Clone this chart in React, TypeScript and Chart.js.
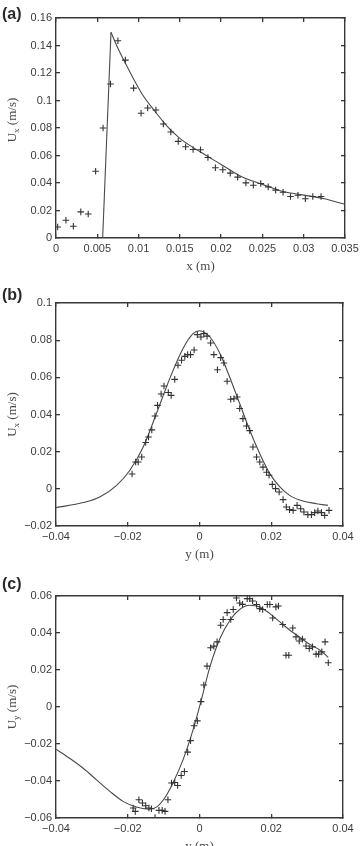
import React, { useEffect, useRef } from "react";
import { Chart, registerables } from "chart.js";

Chart.register(...registerables);

// ---------- Panel (a) ----------
const A_X_TICKS = [0, 0.005, 0.01, 0.015, 0.02, 0.025, 0.03, 0.035];
const A_Y_TICKS = [0, 0.02, 0.04, 0.06, 0.08, 0.1, 0.12, 0.14, 0.16];
const A_MEAS_X = [0.0002, 0.0012, 0.0021, 0.0030, 0.0039, 0.0048, 0.0057, 0.0066, 0.0075, 0.0084, 0.0094, 0.0103, 0.0111, 0.0121, 0.0130, 0.0139, 0.0148, 0.0157, 0.0166, 0.0175, 0.0184, 0.0193, 0.0202, 0.0211, 0.0220, 0.0230, 0.0239, 0.0248, 0.0257, 0.0266, 0.0275, 0.0284, 0.0293, 0.0302, 0.0311, 0.0321];
const A_MEAS_Y = [0.0080, 0.0129, 0.0085, 0.0190, 0.0175, 0.0486, 0.0800, 0.1120, 0.1435, 0.1294, 0.1090, 0.0907, 0.0946, 0.0931, 0.0829, 0.0771, 0.0703, 0.0664, 0.0644, 0.0642, 0.0586, 0.0511, 0.0496, 0.0472, 0.0443, 0.0401, 0.0384, 0.0396, 0.0372, 0.0348, 0.0333, 0.0302, 0.0311, 0.0285, 0.0302, 0.0302];
const A_RISE_X = [0.00565, 0.00666];
const A_RISE_Y = [0, 0.1496];
const A_MODEL_X = [0.00666, 0.0075, 0.0085, 0.0095, 0.0105, 0.012, 0.0135, 0.015, 0.0175, 0.02, 0.0225, 0.025, 0.0275, 0.03, 0.0325, 0.035];
const A_MODEL_Y = [0.1496, 0.138, 0.126, 0.1145, 0.104, 0.092, 0.081, 0.0725, 0.0625, 0.0535, 0.0445, 0.039, 0.0338, 0.0312, 0.0285, 0.0245];

// ---------- Panel (b) ----------
const B_X_TICKS = [-0.04, -0.02, 0, 0.02, 0.04];
const B_Y_TICKS = [-0.02, 0, 0.02, 0.04, 0.06, 0.08, 0.1];
const B_MEAS_X = [-0.0188, -0.0178, -0.0171, -0.0161, -0.0150, -0.0142, -0.0133, -0.0124, -0.0117, -0.0107, -0.0099, -0.0087, -0.0079, -0.0069, -0.0060, -0.0050, -0.0041, -0.0033, -0.0025, -0.0015, -0.0006, 0.0004, 0.0012, 0.0021, 0.0031, 0.0040, 0.0050, 0.0059, 0.0068, 0.0077, 0.0087, 0.0096, 0.0105, 0.0112, 0.0121, 0.0131, 0.0140, 0.0149, 0.0159, 0.0168, 0.0177, 0.0187, 0.0194, 0.0203, 0.0212, 0.0222, 0.0233, 0.0242, 0.0251, 0.0261, 0.0272, 0.0282, 0.0291, 0.0302, 0.0312, 0.0321, 0.0330, 0.0340, 0.0349, 0.0361];
const B_MEAS_Y = [0.0080, 0.0144, 0.0144, 0.0171, 0.0249, 0.0279, 0.0317, 0.0392, 0.0449, 0.0510, 0.0553, 0.0518, 0.0503, 0.0589, 0.0665, 0.0692, 0.0713, 0.0722, 0.0722, 0.0747, 0.0830, 0.0817, 0.0835, 0.0822, 0.0785, 0.0722, 0.0641, 0.0706, 0.0677, 0.0579, 0.0482, 0.0485, 0.0494, 0.0432, 0.0378, 0.0338, 0.0313, 0.0225, 0.0171, 0.0144, 0.0117, 0.0089, 0.0073, 0.0024, 0.0001, -0.0017, -0.0058, -0.0098, -0.0112, -0.0116, -0.0089, -0.0107, -0.0125, -0.0139, -0.0139, -0.0128, -0.0119, -0.0128, -0.0143, -0.0116];
const B_MODEL_X = [-0.040, -0.0324, -0.0278, -0.0231, -0.0194, -0.0157, -0.0120, -0.0083, -0.0046, -0.0018, 0, 0.0029, 0.0057, 0.0084, 0.0112, 0.0140, 0.0168, 0.0196, 0.0224, 0.0251, 0.0288, 0.0326, 0.0358];
const B_MODEL_Y = [-0.0101, -0.0074, -0.0044, 0.0019, 0.0100, 0.0225, 0.0405, 0.0593, 0.0755, 0.0835, 0.0851, 0.0817, 0.0728, 0.0602, 0.0459, 0.0315, 0.0189, 0.0082, 0.0010, -0.0035, -0.0066, -0.0080, -0.0089];

// ---------- Panel (c) ----------
const C_X_TICKS = [-0.04, -0.02, 0, 0.02, 0.04];
const C_Y_TICKS = [-0.06, -0.04, -0.02, 0, 0.02, 0.04, 0.06];
const C_MEAS_X = [-0.0185, -0.0179, -0.0169, -0.0159, -0.0150, -0.0141, -0.0134, -0.0124, -0.0113, -0.0104, -0.0096, -0.0088, -0.0078, -0.0069, -0.0061, -0.0051, -0.0042, -0.0033, -0.0025, -0.0015, -0.0006, 0.0004, 0.0012, 0.0021, 0.0031, 0.0040, 0.0049, 0.0059, 0.0066, 0.0077, 0.0087, 0.0094, 0.0103, 0.0112, 0.0120, 0.0133, 0.0140, 0.0148, 0.0159, 0.0168, 0.0176, 0.0189, 0.0196, 0.0204, 0.0213, 0.0220, 0.0232, 0.0241, 0.0249, 0.0260, 0.0269, 0.0278, 0.0287, 0.0297, 0.0306, 0.0315, 0.0325, 0.0332, 0.0341, 0.0350, 0.0359];
const C_MEAS_Y = [-0.0546, -0.0564, -0.0501, -0.0519, -0.0534, -0.0546, -0.0550, -0.0597, -0.0559, -0.0559, -0.0564, -0.0501, -0.0411, -0.0408, -0.0424, -0.0370, -0.0349, -0.0244, -0.0182, -0.0101, -0.0075, 0.0029, 0.0119, 0.0221, 0.0320, 0.0329, 0.0352, 0.0442, 0.0473, 0.0510, 0.0473, 0.0527, 0.0589, 0.0562, 0.0555, 0.0586, 0.0586, 0.0573, 0.0554, 0.0532, 0.0527, 0.0554, 0.0554, 0.0481, 0.0541, 0.0546, 0.0446, 0.0280, 0.0280, 0.0427, 0.0379, 0.0357, 0.0367, 0.0330, 0.0316, 0.0325, 0.0286, 0.0286, 0.0298, 0.0352, 0.0239];
const C_MODEL_X = [-0.040, -0.0362, -0.0325, -0.0287, -0.0250, -0.0213, -0.0176, -0.0143, -0.0120, -0.0097, -0.0074, -0.0046, -0.0018, 0.0004, 0.0029, 0.0057, 0.0085, 0.0112, 0.0140, 0.0168, 0.0196, 0.0224, 0.0252, 0.0280, 0.0308, 0.0336, 0.0359];
const C_MODEL_Y = [-0.0228, -0.0277, -0.0330, -0.0394, -0.0456, -0.0510, -0.0541, -0.0552, -0.0541, -0.0492, -0.0411, -0.0286, -0.0124, 0.0030, 0.0217, 0.0370, 0.0469, 0.0527, 0.0550, 0.0541, 0.0505, 0.0460, 0.0415, 0.0376, 0.0338, 0.0307, 0.0268];

const TICK_FONT = "'Liberation Sans', Arial, sans-serif";
const TITLE_FONT = "'Liberation Serif', 'Times New Roman', serif";
const TICK_COLOR = "#3c3c3c";
const BOX_COLOR = "#383838";
const MARK_COLOR = "#333333";
const LINE_COLOR = "#4a4a4a";

const zip = (xs: number[], ys: number[]) => xs.map((x, i) => ({ x, y: ys[i] }));

const fmt = (v: number) => {
  if (Math.abs(v) < 1e-12) return "0";
  const s = String(parseFloat(Math.abs(v).toFixed(4)));
  return v < 0 ? "\u2212" + s : s;
};

const titlePlugin = {
  id: "axisTitles",
  afterDraw(chart: any, _args: any, opts: any) {
    const ctx: CanvasRenderingContext2D = chart.ctx;
    const area = chart.chartArea;
    ctx.save();
    ctx.fillStyle = "#4a4a4a";
    ctx.font = `13px ${TITLE_FONT}`;
    ctx.textAlign = "center";
    ctx.textBaseline = "middle";
    ctx.fillText(opts.xTitle, (area.left + area.right) / 2, area.bottom + 29);

    const main = "U";
    const sub = opts.ySub;
    const rest = " (m/s)";
    ctx.font = `13px ${TITLE_FONT}`;
    const w1 = ctx.measureText(main).width;
    const w3 = ctx.measureText(rest).width;
    ctx.font = `9px ${TITLE_FONT}`;
    const w2 = ctx.measureText(sub).width;
    const total = w1 + w2 + w3;
    ctx.translate(12, (area.top + area.bottom) / 2 + (opts.yTitleShift || 0));
    ctx.rotate(-Math.PI / 2);
    ctx.textAlign = "left";
    ctx.textBaseline = "alphabetic";
    let x0 = -total / 2;
    ctx.font = `13px ${TITLE_FONT}`;
    ctx.fillText(main, x0, 4);
    x0 += w1;
    ctx.font = `9px ${TITLE_FONT}`;
    ctx.fillText(sub, x0, 7);
    x0 += w2;
    ctx.font = `13px ${TITLE_FONT}`;
    ctx.fillText(rest, x0, 4);
    ctx.restore();
  },
};

type PanelCfg = {
  top: number;
  height: number;
  padTop: number;
  padRight: number;
  padBottom: number;
  xMin: number;
  xMax: number;
  yMin: number;
  yMax: number;
  xTicks: number[];
  yTicks: number[];
  measX: number[];
  measY: number[];
  models: { x: number[]; y: number[]; smooth: boolean }[];
  xTitle: string;
  ySub: string;
  label: string;
  labelTop: number;
  yTitleShift?: number;
};

const PANELS: PanelCfg[] = [
  {
    top: 0, height: 280, padTop: 18, padRight: 17, padBottom: 2,
    xMin: 0, xMax: 0.035, yMin: 0, yMax: 0.16,
    xTicks: A_X_TICKS, yTicks: A_Y_TICKS,
    measX: A_MEAS_X, measY: A_MEAS_Y,
    models: [
      { x: A_RISE_X, y: A_RISE_Y, smooth: false },
      { x: A_MODEL_X, y: A_MODEL_Y, smooth: true },
    ],
    xTitle: "x (m)", ySub: "x", label: "(a)", labelTop: 5, yTitleShift: -8,
  },
  {
    top: 280, height: 286, padTop: 23, padRight: 19, padBottom: 0,
    xMin: -0.04, xMax: 0.04, yMin: -0.02, yMax: 0.1,
    xTicks: B_X_TICKS, yTicks: B_Y_TICKS,
    measX: B_MEAS_X, measY: B_MEAS_Y,
    models: [{ x: B_MODEL_X, y: B_MODEL_Y, smooth: true }],
    xTitle: "y (m)", ySub: "x", label: "(b)", labelTop: 286,
  },
  {
    top: 566, height: 294, padTop: 30, padRight: 19, padBottom: 2,
    xMin: -0.04, xMax: 0.04, yMin: -0.06, yMax: 0.06,
    xTicks: C_X_TICKS, yTicks: C_Y_TICKS,
    measX: C_MEAS_X, measY: C_MEAS_Y,
    models: [{ x: C_MODEL_X, y: C_MODEL_Y, smooth: true }],
    xTitle: "y (m)", ySub: "y", label: "(c)", labelTop: 575,
  },
];

const tickFont = { family: TICK_FONT, size: 11 };

function axis(position: string, min: number, max: number, values: number[], showLabels: boolean, size: number) {
  const horizontal = position === "top" || position === "bottom";
  return {
    type: "linear",
    position,
    min,
    max,
    grid: {
      display: true,
      drawOnChartArea: false,
      drawTicks: true,
      tickLength: -4,
      color: BOX_COLOR,
      lineWidth: 1.3,
    },
    border: { display: true, color: BOX_COLOR, width: 1.4 },
    afterBuildTicks: (s: any) => {
      s.ticks = values.map((v) => ({ value: v }));
    },
    afterFit: (s: any) => {
      if (horizontal) s.height = size;
      else s.width = size;
      s.paddingLeft = 0;
      s.paddingRight = 0;
      s.paddingTop = 0;
      s.paddingBottom = 0;
    },
    ticks: {
      display: showLabels,
      autoSkip: false,
      maxRotation: 0,
      padding: 8,
      color: TICK_COLOR,
      font: tickFont,
      callback: (v: any) => fmt(Number(v)),
    },
  };
}

function Panel({ cfg }: { cfg: PanelCfg }) {
  const ref = useRef<HTMLCanvasElement>(null);
  useEffect(() => {
    const canvas = ref.current!;
    const datasets: any[] = [
      {
        type: "scatter",
        data: zip(cfg.measX, cfg.measY),
        pointStyle: "cross",
        pointRadius: 3.3,
        pointBorderWidth: 1.1,
        borderColor: MARK_COLOR,
        backgroundColor: MARK_COLOR,
        showLine: false,
        xAxisID: "x",
        yAxisID: "y",
      },
      ...cfg.models.map((m) => ({
        type: "line",
        data: zip(m.x, m.y),
        borderColor: LINE_COLOR,
        borderWidth: 1.1,
        pointRadius: 0,
        fill: false,
        tension: 0,
        cubicInterpolationMode: m.smooth ? "monotone" : "default",
        xAxisID: "x",
        yAxisID: "y",
      })),
    ];
    const chart = new Chart(canvas, {
      type: "scatter",
      data: { datasets },
      options: {
        animation: false,
        responsive: false,
        devicePixelRatio: 1,
        layout: { padding: { top: cfg.padTop, right: cfg.padRight, bottom: cfg.padBottom, left: 0 } },
        plugins: {
          legend: { display: false },
          tooltip: { enabled: false },
          axisTitles: { xTitle: cfg.xTitle, ySub: cfg.ySub, yTitleShift: cfg.yTitleShift || 0 },
        } as any,
        scales: {
          x: axis("bottom", cfg.xMin, cfg.xMax, cfg.xTicks, true, 40),
          x2: axis("top", cfg.xMin, cfg.xMax, cfg.xTicks, false, 0),
          y: axis("left", cfg.yMin, cfg.yMax, cfg.yTicks, true, 56),
          y2: axis("right", cfg.yMin, cfg.yMax, cfg.yTicks, false, 0),
        } as any,
      },
      plugins: [titlePlugin as any],
    });
    return () => chart.destroy();
  }, [cfg]);
  return (
    <canvas
      ref={ref}
      width={362}
      height={cfg.height}
      style={{ position: "absolute", left: 0, top: cfg.top, width: 362, height: cfg.height }}
    />
  );
}

export default function App() {
  return (
    <div
      style={{
        position: "absolute",
        left: 0,
        top: 0,
        width: 362,
        height: 846,
        overflow: "hidden",
        background: "#ffffff",
      }}
    >
      {PANELS.map((p, i) => (
        <Panel key={i} cfg={p} />
      ))}
      {PANELS.map((p, i) => (
        <div
          key={"l" + i}
          style={{
            position: "absolute",
            left: 2,
            top: p.labelTop,
            font: `bold 16px ${TICK_FONT}`,
            lineHeight: "18px",
            color: "#2a2a2a",
          }}
        >
          {p.label}
        </div>
      ))}
    </div>
  );
}
